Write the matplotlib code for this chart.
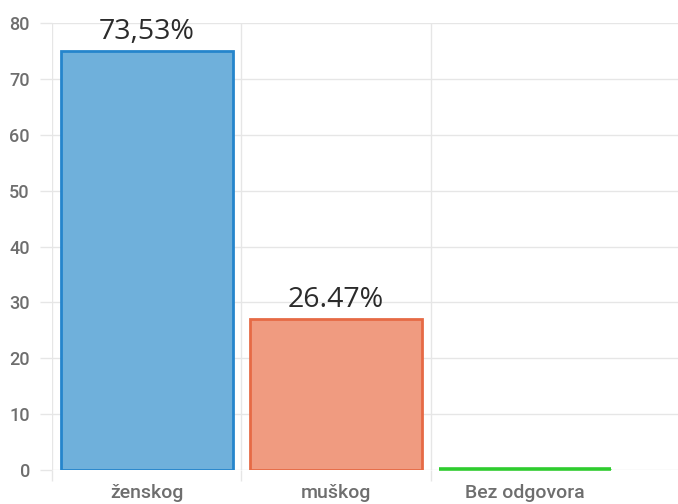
import matplotlib
matplotlib.use("Agg")
import matplotlib.pyplot as plt
import numpy as np

categories = ["ženskog", "muškog", "Bez odgovora"]
counts = [75, 27, 0]
labels = ["73,53%", "26.47%", ""]
fill_colors = ["#6fb0db", "#f09b80", "#7fdf7f"]
edge_colors = ["#2585cc", "#e66a45", "#2ecc2e"]

W, H = 678, 504
fig = plt.figure(figsize=(W / 100, H / 100), dpi=100)
left, right, top, bottom = 52, 678, 23, 470
ax = fig.add_axes([left / W, 1 - bottom / H, (right - left) / W, (bottom - top) / H])

x = np.arange(len(categories))
bars = ax.bar(x, counts, width=0.91, color=fill_colors, edgecolor=edge_colors, linewidth=2.0, zorder=3)
for xi, c, ec in zip(x, counts, edge_colors):
    if c == 0:
        ax.plot([xi - 0.455, xi + 0.455], [0.15, 0.15], color=ec, lw=2.6, solid_capstyle="butt",
                zorder=4, clip_on=False)

for xi, c, lab in zip(x, counts, labels):
    if lab:
        ax.text(xi, c + 0.9, lab, ha="center", va="bottom", fontsize=20.5, color="#2b2b2b",
                family="Open Sans", zorder=5)

ax.set_xlim(-0.5, 2.5 + 58 / 189)
ax.set_ylim(0, 80)
ax.set_yticks(range(0, 81, 10))
ax.set_xticks(x)
ax.set_xticklabels(categories)
ax.set_xticks([-0.5, 0.5, 1.5], minor=True)

for s in ax.spines.values():
    s.set_visible(False)

grid_c = "#e6e6e6"
ax.grid(axis="y", color=grid_c, lw=1, zorder=0)
ax.grid(axis="x", which="minor", color=grid_c, lw=1, zorder=0)
ax.grid(axis="x", which="major", visible=False)

ax.tick_params(axis="y", length=9, color=grid_c, width=1, pad=7, labelsize=13, labelcolor="#6e6e6e")
ax.tick_params(axis="x", which="major", length=0, pad=10, labelsize=14, labelcolor="#6e6e6e")
ax.tick_params(axis="x", which="minor", length=8, color=grid_c, width=1)
for t in ax.get_yticklabels() + ax.get_xticklabels():
    t.set_fontfamily("Roboto")
    t.set_fontweight("medium")

fig.savefig("out.png", dpi=100)
